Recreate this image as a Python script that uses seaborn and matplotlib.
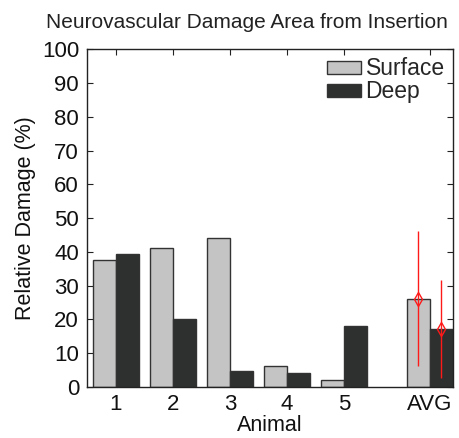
import numpy as np
import pandas as pd
import matplotlib
matplotlib.use("Agg")
import matplotlib.pyplot as plt
import seaborn as sns

# ---- data ----
animals = ["1", "2", "3", "4", "5", "AVG"]
surface = [37.6, 41.2, 44.0, 6.2, 2.2, 26.2]
deep = [39.3, 20.0, 4.6, 4.1, 18.0, 17.2]
avg_sd_surface = 20.1
avg_sd_deep = 14.4
series = ["Surface", "Deep"]
yticks = [0, 10, 20, 30, 40, 50, 60, 70, 80, 90, 100]

# ---- layout ----
x_pos = [1, 2, 3, 4, 5, 6.5]

sns.set_style("ticks")
plt.rcParams["font.family"] = ["Liberation Sans", "DejaVu Sans"]

df = pd.DataFrame({
    "pos": x_pos * 2,
    "val": surface + deep,
    "Type": [series[0]] * len(x_pos) + [series[1]] * len(x_pos),
})

fig = plt.figure(figsize=(4.6, 4.38), dpi=100)
ax = fig.add_axes([0.190, 0.1164, 0.794, 0.771])

sns.barplot(data=df, x="pos", y="val", hue="Type", native_scale=True,
            palette={"Surface": "#c4c4c4", "Deep": "#2e302f"},
            edgecolor="#333333", linewidth=1.0, errorbar=None,
            width=0.8, ax=ax, legend=True)

# error bars on AVG bars
n = len(x_pos)
surf_avg = ax.patches[n - 1]
deep_avg = ax.patches[2 * n - 1]
for patch, sd in [(surf_avg, avg_sd_surface), (deep_avg, avg_sd_deep)]:
    cx = patch.get_x() + patch.get_width() / 2
    cy = patch.get_height()
    ax.errorbar([cx], [cy], yerr=[sd], fmt="d", color="#ff1a1a",
                mfc="none", mec="#ff1a1a", ms=7, mew=1.0, lw=1.0,
                capsize=0, zorder=5)

ax.set_xlim(0.5, 6.9)
ax.set_ylim(0, 100)
ax.set_yticks(yticks)
ax.set_xticks(x_pos)
ax.set_xticklabels(animals)
ax.tick_params(direction="in", top=True, right=True, labelsize=16,
               length=4, width=0.8, colors="#222222", labelcolor="#111111")
ax.tick_params(axis="x", pad=5)
ax.tick_params(axis="y", pad=6)
for s in ax.spines.values():
    s.set_visible(True)
    s.set_linewidth(1.0)
    s.set_color("#222222")

ax.set_xlabel("Animal", fontsize=15.5, labelpad=0, color="#111111")
ax.set_ylabel("Relative Damage (%)", fontsize=15.5, labelpad=4, color="#111111")
fig.text(246.5 / 460, 1 - 28.3 / 438, "Neurovascular Damage Area from Insertion",
         ha="center", va="baseline", fontsize=15, color="#222222")

leg = ax.legend(loc="upper right", frameon=False, fontsize=16.5,
                handlelength=1.5, handleheight=0.48, handletextpad=0.18,
                labelspacing=0.0, borderaxespad=0.1, borderpad=0.25)
for h in leg.legend_handles:
    h.set_edgecolor("#333333")
    h.set_linewidth(1.0)

fig.savefig("out.png", dpi=100)
